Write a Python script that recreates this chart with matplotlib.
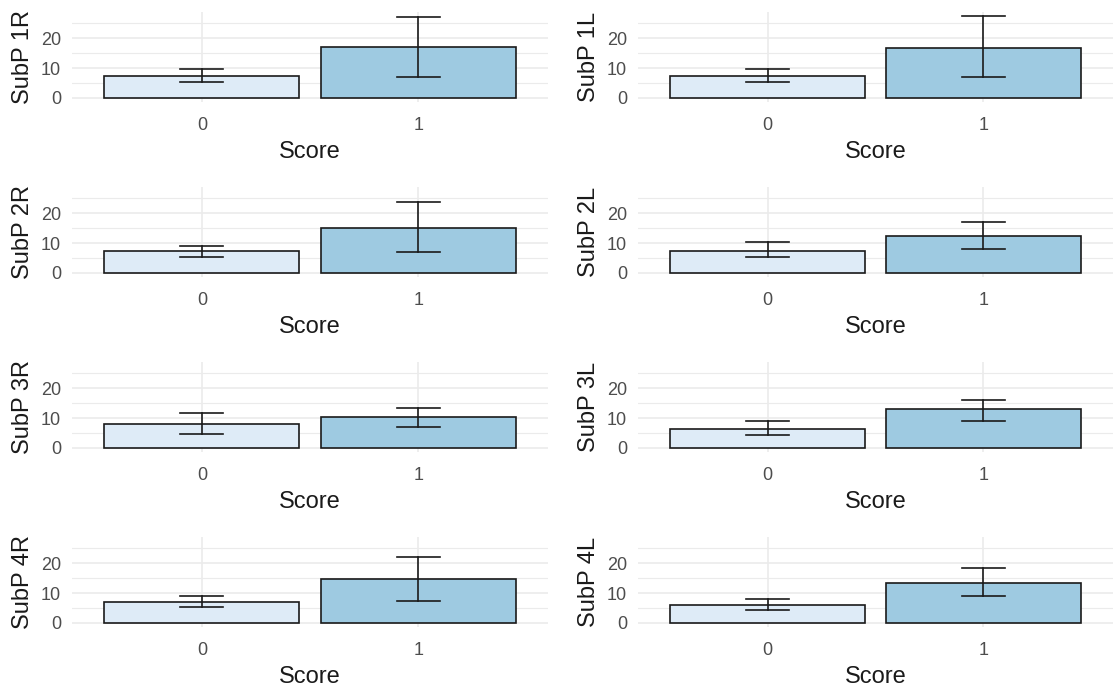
import matplotlib
matplotlib.use("Agg")
import matplotlib.pyplot as plt

plt.rcParams['font.family'] = ['Liberation Sans', 'DejaVu Sans']

scores = ["0", "1"]
panels = ["SubP 1R", "SubP 1L", "SubP 2R", "SubP 2L",
          "SubP 3R", "SubP 3L", "SubP 4R", "SubP 4L"]
means = [[7.4, 17.2], [7.4, 16.7], [7.4, 15.1], [7.4, 12.3],
         [8.0, 10.2], [6.3, 12.9], [6.9, 14.6], [5.9, 13.4]]
lower = [[5.3, 7.0], [5.3, 6.9], [5.3, 6.9], [5.3, 8.0],
         [4.8, 6.9], [4.2, 9.1], [5.3, 7.4], [4.2, 9.1]]
upper = [[9.7, 27.0], [9.7, 27.4], [9.1, 23.8], [10.2, 17.2],
         [11.8, 13.4], [9.1, 16.1], [9.1, 22.1], [8.0, 18.3]]
fills = ["#deebf7", "#9ecae1"]

W, H = 1113, 691
fig = plt.figure(figsize=(W / 100, H / 100), dpi=100)

ymax = max(max(u) for u in upper)
ypad = 0.05 * ymax
col_x = [72, 638]
col_w = [476, 475]
ink = "#1a1a1a"

for i, name in enumerate(panels):
    r, c = divmod(i, 2)
    bottom_px = 102 + 175 * r
    height_px = 90
    ax = fig.add_axes([col_x[c] / W, 1 - bottom_px / H, col_w[c] / W, height_px / H])
    xs = range(len(scores))
    ax.bar(xs, means[i], width=0.9, color=fills, edgecolor=ink,
           linewidth=1.2, zorder=3)
    for x, m, lo, hi in zip(xs, means[i], lower[i], upper[i]):
        ax.plot([x, x], [lo, hi], color=ink, lw=1.2, zorder=4)
        ax.plot([x - 0.1, x + 0.1], [lo, lo], color=ink, lw=1.2, zorder=4)
        ax.plot([x - 0.1, x + 0.1], [hi, hi], color=ink, lw=1.2, zorder=4)
    ax.set_xlim(-0.6, 1.6)
    ax.set_ylim(-ypad, ymax + ypad)
    ax.set_xticks(list(xs))
    ax.set_xticklabels(scores)
    ax.set_yticks([0, 10, 20])
    ax.set_yticks([5, 15, 25], minor=True)
    ax.grid(True, which="major", color="#ebebeb", lw=1.2, zorder=0)
    ax.grid(True, which="minor", axis="y", color="#ebebeb", lw=0.8, zorder=0)
    ax.set_axisbelow(True)
    for s in ax.spines.values():
        s.set_visible(False)
    ax.tick_params(which="both", length=0, labelsize=13, colors="#4d4d4d")
    ax.tick_params(axis="x", pad=11)
    ax.tick_params(axis="y", pad=8)
    ax.set_xlabel("Score", fontsize=17, color=ink, labelpad=4.5)
    ax.set_ylabel(name, fontsize=17, color=ink, labelpad=5)

fig.savefig("out.png", dpi=100, facecolor="white")
